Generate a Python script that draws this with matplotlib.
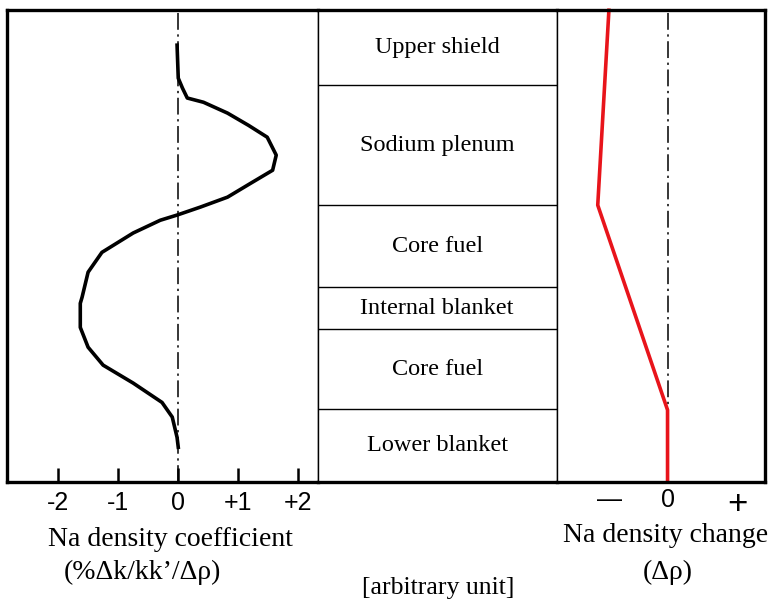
import matplotlib.pyplot as plt

# height along the subassembly, 0 = bottom, 100 = top (arbitrary unit)
coef_height = [92.6, 85.6, 83.5, 81.4, 80.5, 78.2, 75.6, 73.1, 69.3, 66.1, 63.3, 60.4,
               58.3, 56.6, 55.5, 52.8, 48.7, 44.5, 39.2, 37.9, 32.8, 28.6, 24.8, 21.0,
               16.9, 13.8, 9.5, 7.4]
coef_value = [-0.02, 0.0, 0.07, 0.15, 0.42, 0.82, 1.17, 1.48, 1.63, 1.57, 1.2, 0.82,
              0.37, -0.02, -0.3, -0.75, -1.27, -1.5, -1.6, -1.63, -1.63, -1.5, -1.25, -0.75,
              -0.27, -0.1, -0.02, 0.0]

change_height = [100.0, 58.7, 15.3, 0.4]
change_value = [-0.84, -1.0, 0.0, 0.0]

region_names = ['Upper shield', 'Sodium plenum', 'Core fuel', 'Internal blanket',
                'Core fuel', 'Lower blanket']
region_bounds = [100.0, 84.1, 58.7, 41.3, 32.4, 15.5, 0.0]

coef_ticks = [-2, -1, 0, 1, 2]
coef_ticklabels = ['-2', '-1', '0', '+1', '+2']
change_ticks = [-0.83, 0, 1]
change_ticklabels = ['\u2014', '0', '+']

serif = 'Liberation Serif'
sans = 'Liberation Sans'
dashdot = (0, (11, 3, 1.5, 3))

W, H = 773, 602
fig = plt.figure(figsize=(W / 100, H / 100), dpi=100)
ax1 = fig.add_axes([0.009, 0.199, 0.402, 0.784])
ax2 = fig.add_axes([0.411, 0.199, 0.309, 0.784])
ax3 = fig.add_axes([0.720, 0.199, 0.270, 0.784])

for ax in (ax1, ax2, ax3):
    ax.set_ylim(0, 100)
    ax.set_yticks([])
    for s in ax.spines.values():
        s.set_linewidth(2.4)
        s.set_color('black')

# 1. coefficient distribution
ax1.set_xlim(-2.85, 2.32)
ax1.axvline(0, color='black', lw=1.1, linestyle=dashdot)
ax1.plot(coef_value, coef_height, color='black', lw=2.6, solid_joinstyle='round')
ax1.set_xticks(coef_ticks)
ax1.set_xticklabels(coef_ticklabels, family=sans, fontsize=18)
ax1.tick_params(axis='x', direction='in', length=10, width=1.8, pad=6)
ax1.spines['right'].set_linewidth(1.0)

# 2. region layout
ax2.set_xlim(0, 1)
ax2.set_xticks([])
ax2.spines['left'].set_linewidth(1.0)
ax2.spines['right'].set_linewidth(1.0)
for b in region_bounds[1:-1]:
    ax2.axhline(b, color='black', lw=1.0)
for name, top, bot in zip(region_names, region_bounds[:-1], region_bounds[1:]):
    ax2.text(0.5, (top + bot) / 2, name, ha='center', va='center',
             family=serif, fontsize=17.5)

# 3. sodium density change
ax3.set_xlim(-1.59, 1.4)
ax3.axvline(0, color='black', lw=1.1, linestyle=dashdot)
ax3.plot(change_value, change_height, color='#e8141b', lw=2.6, clip_on=False)
ax3.set_xticks(change_ticks)
ax3.set_xticklabels(change_ticklabels, family=sans, fontsize=18)
ax3.get_xticklabels()[2].set_fontsize(25)
ax3.tick_params(axis='x', length=0, pad=4)
ax3.spines['left'].set_linewidth(1.0)

# axis titles placed under each panel
def label(x, y, s, size=20):
    fig.text(x / W, 1 - y / H, s, ha='center', va='center', family=serif, fontsize=size)

label(170, 540, 'Na density coefficient')
label(142, 572, '(%\u0394k/kk\u2019/\u0394\u03c1)')
label(438, 588, '[arbitrary unit]', size=18.5)
label(666, 535, 'Na density change')
label(668, 572, '(\u0394\u03c1)')

fig.savefig('out.png', dpi=100)
